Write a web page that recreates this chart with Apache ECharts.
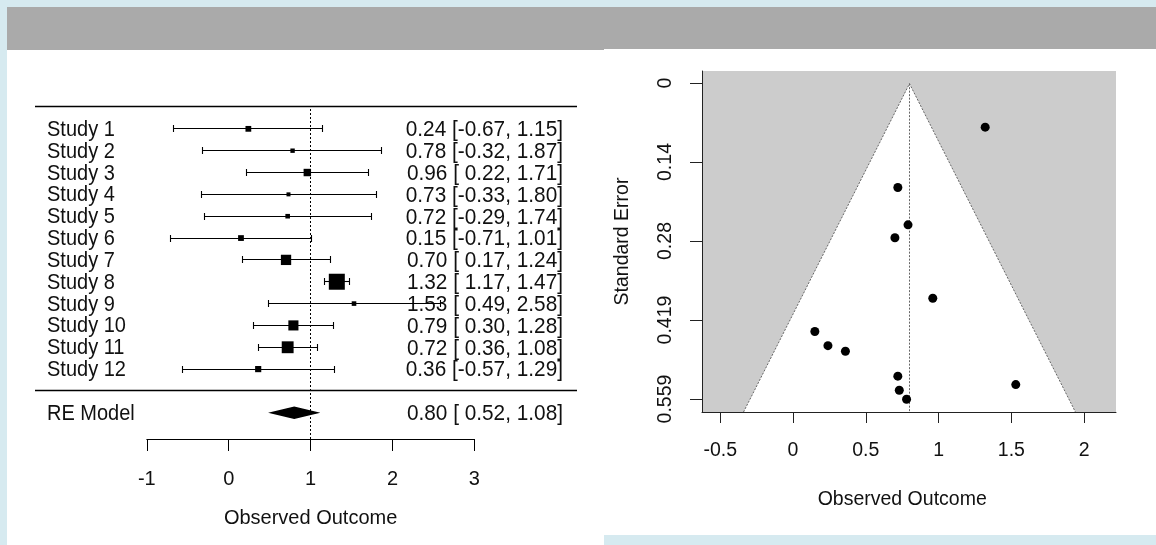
<!DOCTYPE html>
<html>
<head>
<meta charset="utf-8">
<script src="https://cdn.jsdelivr.net/npm/echarts/dist/echarts.min.js"></script>
<style>
html,body{margin:0;padding:0;background:#d6eaf0;width:1156px;height:545px;overflow:hidden;}
.p{position:absolute;}
#chart{position:absolute;left:0;top:0;width:1156px;height:545px;}
</style>
</head>
<body>
<div class="p" style="left:7px;top:7px;width:597px;height:43px;background:#aaaaaa"></div>
<div class="p" style="left:7px;top:50px;width:597px;height:495px;background:#ffffff"></div>
<div class="p" style="left:604px;top:7px;width:552px;height:42px;background:#aaaaaa"></div>
<div class="p" style="left:604px;top:49px;width:552px;height:486px;background:#ffffff"></div>
<div id="chart"></div>
<script>
// ---------------- data ----------------
const studies = ['Study 1','Study 2','Study 3','Study 4','Study 5','Study 6','Study 7','Study 8','Study 9','Study 10','Study 11','Study 12'];
const estimates = [0.24, 0.78, 0.96, 0.73, 0.72, 0.15, 0.70, 1.32, 1.53, 0.79, 0.72, 0.36];
const ciLower   = [-0.67, -0.32, 0.22, -0.33, -0.29, -0.71, 0.17, 1.17, 0.49, 0.30, 0.36, -0.57];
const ciUpper   = [1.15, 1.87, 1.71, 1.80, 1.74, 1.01, 1.24, 1.47, 2.58, 1.28, 1.08, 1.29];
const weights   = [6.2, 4.8, 7.9, 4.4, 5.0, 6.2, 10.8, 16.6, 5.0, 10.6, 12.4, 6.6];
const standardErrors = [0.464, 0.559, 0.380, 0.543, 0.518, 0.439, 0.273, 0.077, 0.533, 0.250, 0.184, 0.474];
const pooledLabel = 'RE Model';
const pooled = [0.80, 0.52, 1.08];           // estimate, lower, upper
const refLineValue = 1;
const forestTicks = [-1, 0, 1, 2, 3];
const funnelXTicks = [-0.5, 0, 0.5, 1, 1.5, 2];
const funnelYTickLabels = ['0', '0.14', '0.28', '0.419', '0.559'];
const funnelYTickMax = 0.559;
const axisTitle = 'Observed Outcome';
const funnelYTitle = 'Standard Error';

// ---------------- layout helpers ----------------
const FONT = '"Liberation Sans", Arial, sans-serif';
const TXT = '#111';
const F_X0 = 228.7, F_PX = 81.9;
const F_LEFT = 35, F_RIGHT = 577;
const F_XMIN = (F_LEFT - F_X0) / F_PX, F_XMAX = (F_RIGHT - F_X0) / F_PX;
const F_TOP = 107, F_BOTTOM = 439, F_YMAX = 13, F_YMIN = -2.2;
const k = studies.length;
const rows = studies.map((s, i) => k - i);
const pooledRow = -1;
const labelX = (47 - F_X0) / F_PX;
const annotX = (563 - F_X0) / F_PX;
const U_LEFT = 702, U_RIGHT = 1116, U_TOP = 71, U_BOTTOM = 412;
const U_X0 = 793, U_PX = 145.6;
const U_XMIN = (U_LEFT - U_X0) / U_PX, U_XMAX = (U_RIGHT - U_X0) / U_PX;
const U_YMIN = -0.0224, U_YMAX = 0.5815;
const U_Y0 = 83, U_Y1 = 399;

function fmt(v) { return v.toFixed(2); }
function pad(s, n) { while (s.length < n) s = ' ' + s; return s; }
function annot(e, l, u) { return fmt(e) + ' [' + pad(fmt(l), 5) + ', ' + fmt(u) + ']'; }

const wMin = Math.min(...weights), wMax = Math.max(...weights);
function sqSize(w) { return 4 + (w - wMin) / (wMax - wMin) * 12; }

const crisp = v => Math.round(v - 0.5) + 0.5;

const chart = echarts.init(document.getElementById('chart'), null, {renderer: 'canvas'});

const labelRows = studies.map((s, i) => [labelX, rows[i], s, 'left', 20])
  .concat([[labelX, pooledRow, pooledLabel, 'left', 20]])
  .concat(studies.map((s, i) => [annotX, rows[i], annot(estimates[i], ciLower[i], ciUpper[i]), 'right', 20.8]))
  .concat([[annotX, pooledRow, annot(pooled[0], pooled[1], pooled[2]), 'right', 20.8]]);

const option = {
  animation: false,
  grid: [
    {left: F_LEFT, top: F_TOP, width: F_RIGHT - F_LEFT, height: F_BOTTOM - F_TOP, outerBoundsMode: 'none', containLabel: false},
    {left: F_X0 + forestTicks[0] * F_PX, top: F_BOTTOM - 1, width: (forestTicks[forestTicks.length-1] - forestTicks[0]) * F_PX, height: 1, outerBoundsMode: 'none', containLabel: false},
    {left: U_LEFT, top: U_TOP, width: U_RIGHT - U_LEFT, height: U_BOTTOM - U_TOP, show: true, backgroundColor: '#cccccc', borderWidth: 0, outerBoundsMode: 'none', containLabel: false},
    {left: U_X0 + funnelXTicks[0] * U_PX, top: U_BOTTOM - 1, width: (funnelXTicks[funnelXTicks.length-1] - funnelXTicks[0]) * U_PX, height: 1, outerBoundsMode: 'none', containLabel: false},
    {left: U_LEFT, top: U_Y0, width: 1, height: U_Y1 - U_Y0, outerBoundsMode: 'none', containLabel: false}
  ],
  xAxis: [
    {gridIndex: 0, type: 'value', min: F_XMIN, max: F_XMAX, show: false},
    {gridIndex: 1, type: 'value', min: forestTicks[0], max: forestTicks[forestTicks.length-1], interval: 1,
      axisLine: {show: true, lineStyle: {color: '#000', width: 1}},
      axisTick: {show: true, length: 12, lineStyle: {color: '#000', width: 1}},
      axisLabel: {show: true, fontSize: 20, fontFamily: FONT, color: TXT, margin: 30, showMinLabel: true, showMaxLabel: true},
      splitLine: {show: false},
      name: axisTitle, nameLocation: 'middle', nameGap: 69, nameMoveOverlap: false,
      nameTextStyle: {fontSize: 20, fontFamily: FONT, color: TXT}},
    {gridIndex: 2, type: 'value', min: U_XMIN, max: U_XMAX, z: 10,
      axisLine: {show: true, onZero: false, lineStyle: {color: '#222', width: 1}},
      axisTick: {show: false}, axisLabel: {show: false}, splitLine: {show: false}},
    {gridIndex: 3, type: 'value', min: funnelXTicks[0], max: funnelXTicks[funnelXTicks.length-1], interval: 0.5, z: 10,
      axisLine: {show: true, lineStyle: {color: '#222', width: 1}},
      axisTick: {show: true, length: 11, lineStyle: {color: '#222', width: 1}},
      axisLabel: {show: true, fontSize: 19.5, fontFamily: FONT, color: TXT, margin: 29, showMinLabel: true, showMaxLabel: true},
      splitLine: {show: false},
      name: axisTitle, nameLocation: 'middle', nameGap: 78, nameMoveOverlap: false,
      nameTextStyle: {fontSize: 19.5, fontFamily: FONT, color: TXT}},
    {gridIndex: 4, type: 'value', show: false}
  ],
  yAxis: [
    {gridIndex: 0, type: 'value', min: F_YMIN, max: F_YMAX, show: false},
    {gridIndex: 1, type: 'value', show: false},
    {gridIndex: 2, type: 'value', inverse: true, min: U_YMIN, max: U_YMAX, z: 10,
      axisLine: {show: true, onZero: false, lineStyle: {color: '#222', width: 1}},
      axisTick: {show: false}, axisLabel: {show: false}, splitLine: {show: false},
      name: funnelYTitle, nameLocation: 'middle', nameGap: 69, nameMoveOverlap: false,
      nameTextStyle: {fontSize: 19.5, fontFamily: FONT, color: TXT}},
    {gridIndex: 3, type: 'value', show: false},
    {gridIndex: 4, type: 'value', inverse: true, min: 0, max: funnelYTickMax, interval: funnelYTickMax / (funnelYTickLabels.length - 1), z: 10,
      axisLine: {show: true, lineStyle: {color: '#222', width: 1}},
      axisTick: {show: true, length: 12, lineStyle: {color: '#222', width: 1}},
      axisLabel: {show: true, rotate: 90, fontSize: 19.5, fontFamily: FONT, color: TXT, margin: 26, showMinLabel: true, showMaxLabel: true,
        formatter: (v, idx) => funnelYTickLabels[idx]},
      splitLine: {show: false}}
  ],
  series: [
    {type: 'custom', xAxisIndex: 0, yAxisIndex: 0, silent: true, z: 3,
      data: [[F_YMAX], [0]],
      renderItem: (p, api) => {
        const a = api.coord([F_XMIN, api.value(0)]);
        const b = api.coord([F_XMAX, api.value(0)]);
        const y = crisp(a[1]);
        return {type: 'line', shape: {x1: a[0], y1: y, x2: b[0], y2: y}, style: {stroke: '#000', lineWidth: 1.4}};
      }},
    {type: 'custom', xAxisIndex: 0, yAxisIndex: 0, silent: true, z: 2,
      data: [[refLineValue]],
      renderItem: (p, api) => {
        const a = api.coord([api.value(0), F_YMAX]);
        const b = api.coord([api.value(0), F_YMIN]);
        const x = crisp(a[0]);
        return {type: 'line', shape: {x1: x, y1: a[1] + 2, x2: x, y2: b[1]}, style: {stroke: '#000', lineWidth: 1, lineDash: [2, 2]}};
      }},
    {type: 'custom', xAxisIndex: 0, yAxisIndex: 0, silent: true, z: 4,
      data: studies.map((s, i) => [ciLower[i], ciUpper[i], rows[i]]),
      renderItem: (p, api) => {
        const lo = api.coord([api.value(0), api.value(2)]);
        const hi = api.coord([api.value(1), api.value(2)]);
        const y = crisp(lo[1]);
        const c = 3.5;
        const st = {stroke: '#000', lineWidth: 1.1};
        return {type: 'group', children: [
          {type: 'line', shape: {x1: lo[0], y1: y, x2: hi[0], y2: y}, style: st},
          {type: 'line', shape: {x1: crisp(lo[0]), y1: y - c, x2: crisp(lo[0]), y2: y + c}, style: st},
          {type: 'line', shape: {x1: crisp(hi[0]), y1: y - c, x2: crisp(hi[0]), y2: y + c}, style: st}
        ]};
      }},
    {type: 'scatter', xAxisIndex: 0, yAxisIndex: 0, silent: true, z: 5,
      symbol: 'rect',
      symbolSize: v => sqSize(v[2]),
      itemStyle: {color: '#000', opacity: 1},
      data: studies.map((s, i) => [estimates[i], rows[i], weights[i]])},
    {type: 'custom', xAxisIndex: 0, yAxisIndex: 0, silent: true, z: 5,
      data: [[pooled[0], pooled[1], pooled[2], pooledRow]],
      renderItem: (p, api) => {
        const r = api.value(3), h = 0.25;
        const pts = [
          api.coord([api.value(1), r]),
          api.coord([api.value(0), r - h]),
          api.coord([api.value(2), r]),
          api.coord([api.value(0), r + h])
        ];
        return {type: 'polygon', shape: {points: pts}, style: {fill: '#000', stroke: '#000', lineWidth: 1.5}};
      }},
    {type: 'custom', xAxisIndex: 0, yAxisIndex: 0, silent: true, z: 3,
      data: labelRows,
      renderItem: (p, api) => {
        const d = labelRows[p.dataIndex];
        const pt = api.coord([d[0], d[1]]);
        return {type: 'text', x: pt[0], y: pt[1] + 1, scaleY: 1.1,
          style: {text: d[2], fontSize: d[4], fontFamily: FONT, fill: TXT, align: d[3], verticalAlign: 'middle'}};
      }},
    {type: 'custom', xAxisIndex: 2, yAxisIndex: 2, silent: true, z: 2,
      data: [[pooled[0]]],
      renderItem: (p, api) => {
        const est = api.value(0), s = U_YMAX;
        const bl = api.coord([est - 1.96 * s, s]);
        const ap = api.coord([est, 0]);
        const br = api.coord([est + 1.96 * s, s]);
        const dash = {stroke: '#666', lineWidth: 1, lineDash: [2, 1.5]};
        return {type: 'group', children: [
          {type: 'polygon', shape: {points: [bl, ap, br]}, style: {fill: '#ffffff'}},
          {type: 'polyline', shape: {points: [bl, ap, br]}, style: Object.assign({fill: null}, dash)},
          {type: 'line', shape: {x1: crisp(ap[0]), y1: ap[1], x2: crisp(ap[0]), y2: bl[1]}, style: dash}
        ]};
      }},
    {type: 'scatter', xAxisIndex: 2, yAxisIndex: 2, silent: true, z: 6,
      symbol: 'circle', symbolSize: 9,
      itemStyle: {color: '#000', opacity: 1},
      data: studies.map((s, i) => [estimates[i], standardErrors[i]])}
  ]
};
chart.setOption(option);
</script>
</body>
</html>
